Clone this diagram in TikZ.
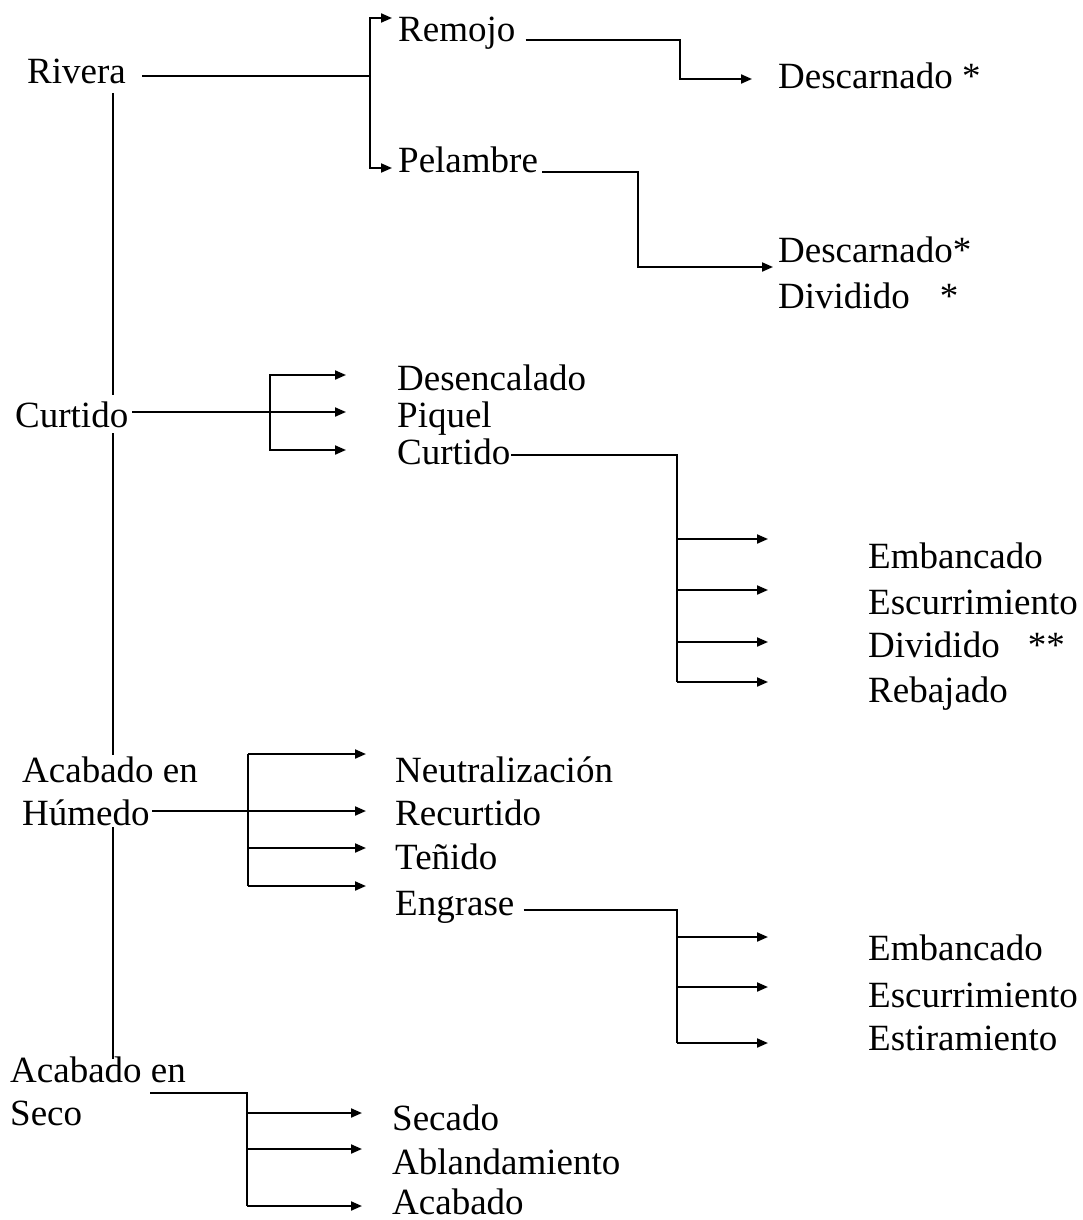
\documentclass[tikz,border=0pt]{standalone}
\usepackage{fontspec}
\setmainfont{Liberation Serif}
\usetikzlibrary{arrows.meta}
\begin{document}
\begin{tikzpicture}[x=1pt,y=-1pt,
  lbl/.style={anchor=base west, inner sep=0pt, font=\fontsize{37}{43}\selectfont, align=left},
  ln/.style={line width=2pt},
  arr/.style={ln, -{Triangle[length=11pt,width=9pt]}}]
\useasboundingbox (0,0) rectangle (1082,1220);
% ---------- main stages
\node[lbl] (riv) at (27,84) {Rivera};
\node[lbl] (cur) at (15,427) {Curtido};
\node[lbl] (hum) at (22,825) {Acabado en\\Húmedo};
\node[lbl] (sec) at (10,1125) {Acabado en\\Seco};
% ---------- Rivera branch
\node[lbl] (rem) at (398,42) {Remojo};
\node[lbl] (pel) at (398,172) {Pelambre};
\node[lbl] (des1) at (778,89) {Descarnado *};
\node[lbl] (des2) at (778,308) {Descarnado*\\[3pt]Dividido\hspace{30pt}*};
% ---------- Curtido branch
\node[lbl] (desen) at (397,390) {Desencalado};
\node[lbl] (piq) at (397,427) {Piquel};
\node[lbl] (cur2) at (397,464) {Curtido};
\node[lbl] (emb1) at (868,568) {Embancado};
\node[lbl] (esc1) at (868,614) {Escurrimiento};
\node[lbl] (div2) at (868,657) {Dividido\hspace{28pt}**};
\node[lbl] (reb) at (868,702) {Rebajado};
% ---------- Acabado en Humedo branch
\node[lbl] (neu) at (395,782) {Neutralización};
\node[lbl] (rec) at (395,825) {Recurtido};
\node[lbl] (ten) at (395,869) {Teñido};
\node[lbl] (eng) at (395,915) {Engrase};
\node[lbl] (emb2) at (868,960) {Embancado};
\node[lbl] (esc2) at (868,1007) {Escurrimiento};
\node[lbl] (est) at (868,1050) {Estiramiento};
% ---------- Acabado en Seco branch
\node[lbl] (seca) at (392,1130) {Secado};
\node[lbl] (abl) at (392,1174) {Ablandamiento};
\node[lbl] (aca) at (392,1214) {Acabado};

% ---------- coordinates
\coordinate (vx) at (113,0);
\coordinate (rb) at (370,76);
\coordinate (remT) at (392,18);
\coordinate (pelT) at (392,168);
\coordinate (remK) at (680,79);
\coordinate (remE) at (752,79);
\coordinate (pelK) at (638,267);
\coordinate (pelE) at (773,267);
\coordinate (cb) at (270,412);
\coordinate (cTip) at (346,412);
\coordinate (cK) at (677,455);
\coordinate (hS) at (152,811);
\coordinate (hb) at (248,811);
\coordinate (hTip) at (366,811);
\coordinate (eK) at (677,910);
\coordinate (sS) at (150,1093);
\coordinate (sK) at (247,1093);

% ---------- main spine
\draw[ln] (vx |- 0,93) -- (vx |- 0,395);
\draw[ln] (vx |- 0,433) -- (vx |- 0,755);
\draw[ln] (vx |- 0,827) -- (vx |- 0,1059);

% ---------- Rivera
\draw[ln, shorten <=16pt] (riv.east |- rb) -- (rb);
\draw[arr] (rb) |- (remT);
\draw[arr] (rb) |- (pelT);
\draw[arr] ([xshift=10pt,yshift=2pt]rem.base east) -| (remK) -- (remE);
\draw[arr] ([xshift=4pt,yshift=0pt]pel.base east) -| (pelK) -- (pelE);

% ---------- Curtido
\draw[arr, shorten <=4pt] (cur.east |- cb) -- (cTip);
\draw[arr] (cb) |- (cTip |- 0,375);
\draw[arr] (cb) |- (cTip |- 0,450);
\draw[ln] ([xshift=1pt]cur2.east |- cK) -- (cK) -- (cK |- 0,682);
\foreach \y in {539,590,642,682} \draw[arr] (cK |- 0,\y) -- (768,\y);

% ---------- Acabado en Humedo
\draw[arr] (hS) -- (hTip);
\draw[arr] (hb |- 0,754) -- (hTip |- 0,754);
\draw[ln] (hb |- 0,754) -- (hb |- 0,886);
\draw[arr] (hb |- 0,848) -- (hTip |- 0,848);
\draw[arr] (hb |- 0,886) -- (hTip |- 0,886);
\draw[ln] ([xshift=9pt]eng.east |- eK) -- (eK) -- (eK |- 0,1043);
\foreach \y in {937,987,1043} \draw[arr] (eK |- 0,\y) -- (768,\y);

% ---------- Acabado en Seco
\draw[ln] (sS) -- (sK) -- (sK |- 0,1206);
\foreach \y in {1113,1149,1206} \draw[arr] (sK |- 0,\y) -- (362,\y);
\end{tikzpicture}
\end{document}
